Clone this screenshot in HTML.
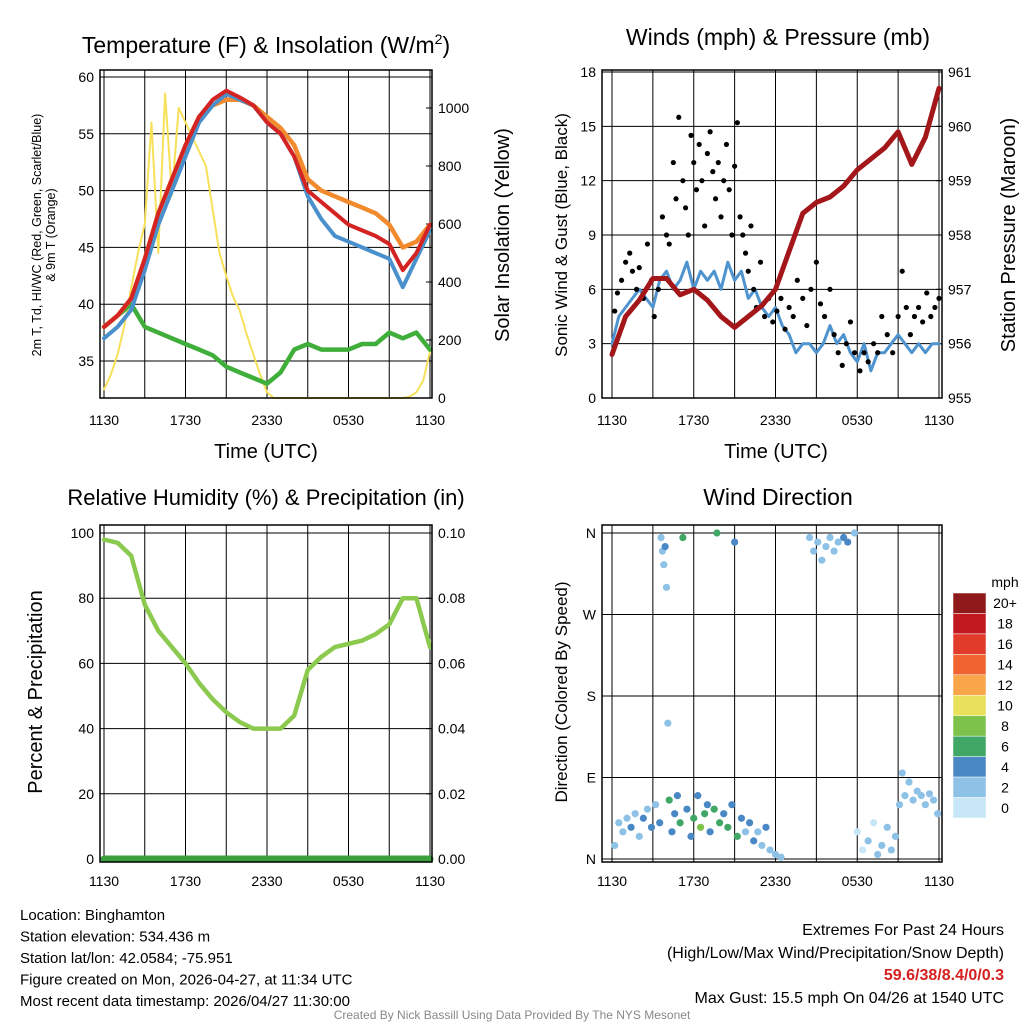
<!DOCTYPE html>
<html><head><meta charset="utf-8"><style>
body{margin:0;background:#fff;}
svg{display:block;font-family:"Liberation Sans",sans-serif;}
</style></head><body>
<svg id="c" width="1024" height="1024" viewBox="0 0 1024 1024"></svg>
<script>
// ---- data ----
const tempHours=[0,1,2,3,4,5,6,7,8,9,10,11,12,13,14,15,16,17,18,19,20,21,22,23,24];
const tempRed=[38,39,40.5,44,48,51,54,56.5,58,58.8,58.2,57.5,56,55,53,50,49,48,47,46.5,46,45.3,43,44.5,47];
const temp9m=[38,39,40.5,44,48,51,54,56.5,57.5,58,58,57.5,56.5,55.5,54,51,50,49.5,49,48.5,48,47,45,45.5,47];
const tempWC=[37,38,39.5,43,47,50,53,56,57.5,58.5,58,57.5,56,55,53,49.5,47.5,46,45.5,45,44.5,44,41.5,44,46.5];
const dewpt=[38,39,40,38,37.5,37,36.5,36,35.5,34.5,34,33.5,33,34,36,36.5,36,36,36,36.5,36.5,37.5,37,37.5,36];
const solarHalfHours=[0,0.5,1,1.5,2,2.5,3,3.5,4,4.5,5,5.5,6,6.5,7,7.5,8,8.5,9,9.5,10,10.5,11,11.5,12,12.5,13,13.5,14,14.5,15,15.5,16,16.5,17,17.5,18,18.5,19,19.5,20,20.5,21,21.5,22,22.5,23,23.5,24];
const solar=[30,80,150,250,380,500,600,950,500,1050,700,1000,950,900,850,800,650,500,420,350,300,220,150,80,20,0,0,0,0,0,0,0,0,0,0,0,0,0,0,0,0,0,0,0,0,5,20,60,160];
const windSpeed=[3,4.5,5,5.5,6,5.5,5,6.5,7,6,6.5,7.5,6,7,6.5,7,6,7.5,6.5,7,5.5,6,5,4.5,5,4,3.5,2.5,3,3,2.5,3,4,3,3.5,2.5,2,3,1.5,2.5,2.5,3,3.5,3,2.5,3,2.5,3,3];
const gustT=[0.2,0.4,0.7,1,1.3,1.5,1.8,2,2.3,2.6,2.9,3.1,3.4,3.7,4,4.2,4.5,4.7,4.9,5.2,5.4,5.6,5.8,6,6.2,6.4,6.6,6.8,7,7.2,7.4,7.6,7.8,8,8.2,8.4,8.6,8.8,9,9.2,9.4,9.6,9.8,10,10.2,10.4,10.6,10.9,11.2,11.5,11.8,12.1,12.4,12.7,13,13.3,13.6,14,14.3,14.6,15,15.3,15.6,16,16.3,16.6,16.9,17.2,17.5,17.8,18.2,18.5,18.8,19.2,19.5,19.8,20.2,20.6,21,21.3,21.6,21.9,22.2,22.5,22.8,23.1,23.4,23.7,24];
const gustV=[4.8,5.8,6.5,7.5,8,7,6,7.2,5.5,8.5,6.5,4.5,6,10,9,8.5,13,11,15.5,12,10.5,9,14.5,13,11.5,14,12,9.5,13.5,14.7,12.5,11,13,10,12,14,11.5,9,12.8,15.2,10,9,8,7,9.5,6,5,7.5,4.5,5.5,4.2,4.8,5.5,3.8,5,4.5,6.5,5.5,4,6,7.5,5.2,4.5,6,3.5,2.5,1.8,3,4.2,2.5,1.5,2.5,2,3,2.5,4.5,3.5,2.5,4.5,7,5,3.5,4.5,5,4.2,5.8,4.5,5,5.5];
const pressure=[955.8,956.5,956.8,957.2,957.2,956.9,957.0,956.8,956.5,956.3,956.5,956.7,957.0,957.7,958.4,958.6,958.7,958.9,959.2,959.4,959.6,959.9,959.3,959.8,960.7];
const rh=[98,97,93,78,70,65,60,54,49,45,42,40,40,40,44,58,62,65,66,67,69,72,80,80,65];
const precip=[0,0,0,0,0,0,0,0,0,0,0,0,0,0,0,0,0,0,0,0,0,0,0,0,0];
const dirT=[0.2,0.5,0.8,1.1,1.4,1.7,2,2.3,2.6,2.9,3.2,3.5,3.6,3.7,3.8,3.9,4,4.1,4.2,4.4,4.6,4.8,5,5.2,5.5,5.8,6,6.3,6.5,6.8,7,7.2,7.5,7.7,7.9,8.2,8.5,8.8,9,9.2,9.5,9.8,10.1,10.4,10.7,11,11.3,11.6,12,12.4,14.5,14.8,15.1,15.4,15.7,16,16.3,16.6,17,17.3,17.8,18,18.4,18.8,19.2,19.5,19.8,20.2,20.5,20.8,21.1,21.3,21.5,21.8,22.1,22.4,22.7,23,23.3,23.6,23.9];
const dirDeg=[15,40,30,45,35,50,25,45,55,35,60,40,355,340,325,345,300,150,65,30,50,70,40,355,55,25,45,70,35,50,60,30,55,360,40,50,35,60,350,25,45,30,40,20,30,15,35,10,5,2,355,340,350,330,345,355,340,350,355,350,360,30,10,20,40,5,15,35,10,25,60,95,70,85,65,75,70,60,72,65,50];
const dirSpd=[2,2,3,2,4,3,2,4,2,4,3,4,2,3,2,4,2,2,6,4,5,4,6,6,4,5,6,4,8,6,5,4,7,6,6,4,7,4,4,6,4,2,4,4,3,2,4,3,2,2,2,2,2,2,2,2,2,2,4,4,2,0,0,2,0,2,2,2,2,2,2,3,2,2,2,2,2,2,2,2,2];
const cbLabels=["20+","18","16","14","12","10","8","6","4","2","0"];
const cbColors=["#8e1a1c","#c1191f","#e03b2b","#f16331","#f9a64b","#e9e05c","#7dc24b","#40a766","#4a88c5","#8dc1e6","#c7e7f9"];
const xLabels=["1130","1730","2330","0530","1130"];

// ---- helpers ----
const S=document.getElementById('c');const NS="http://www.w3.org/2000/svg";
function el(tag,a,txt){const e=document.createElementNS(NS,tag);for(const k in a)e.setAttribute(k,a[k]);if(txt!==undefined)e.textContent=txt;S.appendChild(e);return e;}
function lin(d0,d1,r0,r1){return v=>r0+(v-d0)*(r1-r0)/(d1-d0);}
function text(x,y,s,size,anchor,extra){const t=el('text',Object.assign({x:x,y:y,'font-size':size,'text-anchor':anchor||'middle',fill:'#000'},extra||{}),s);return t;}
function poly(xs,ys,fx,fy,color,w,name){const p=xs.map((t,i)=>fx(t).toFixed(1)+','+fy(ys[i]).toFixed(1)).join(' ');
 const e=el('polyline',{points:p,fill:'none',stroke:color,'stroke-width':w,'stroke-linejoin':'round','stroke-linecap':'round'});
 
 return e;}
function panel(x0,x1,y0,y1,name){const r=el('rect',{x:x0,y:y0,width:x1-x0,height:y1-y0,fill:'none',stroke:'#000','stroke-width':1.5});
 
 }
function vgrid(fx,y0,y1){for(let h=0;h<=24;h+=3){const g=el('line',{x1:fx(h),x2:fx(h),y1:y0,y2:y1,stroke:'#000','stroke-width':1});
 
 }}
function xtick(fx,y){xLabels.forEach((l,i)=>{const t=text(fx(i*6),y,l,14);
 
 });}
function hgrid(vals,fy,x0,x1,fmt,xl,anchor){vals.forEach(v=>{const g=el('line',{x1:x0,x2:x1,y1:fy(v),y2:fy(v),stroke:'#000','stroke-width':1});
 
 
 const t=text(xl,fy(v)+5,fmt(v),14,anchor);
 
 });}
function rticks(vals,fy,x,xl,fmt){vals.forEach(v=>{el('line',{x1:x-6,x2:x,y1:fy(v),y2:fy(v),stroke:'#000'});
 const t=text(xl,fy(v)+5,fmt(v),14,'start');
 
 });}
function rot(x,y,s,size,name){const t=el('text',{x:0,y:0,'font-size':size,'text-anchor':'middle',transform:`translate(${x},${y}) rotate(-90)`},s);
 
 return t;}

// ---- Panel 1: Temperature ----
{const fx=lin(0,24,104,430),fy=lin(35,60,361,77),fs=lin(0,1000,398,108);
 vgrid(fx,70,398);hgrid([35,40,45,50,55,60],fy,100,432,v=>v,94,'end');
 rticks([0,200,400,600,800,1000],fs,432,438,v=>v);
 poly(solarHalfHours,solar,fx,fs,'#f7e15a',2,'solar-insolation-line');
 poly(tempHours,dewpt,fx,fy,'#3fae3a',4.5,'dewpoint-line');
 poly(tempHours,temp9m,fx,fy,'#f28a2e',4.5,'temp-9m-line');
 poly(tempHours,tempWC,fx,fy,'#4a90cc',4,'heat-index-windchill-line');
 poly(tempHours,tempRed,fx,fy,'#d42323',4,'temp-2m-line');
 panel(100,432,70,398,'temperature-plot-area');xtick(fx,425);
 const t=el('text',{x:266,y:53,'font-size':23,'text-anchor':'middle'});t.innerHTML='Temperature (F) &amp; Insolation (W/m<tspan dy="-9" font-size="14">2</tspan><tspan dy="9">)</tspan>';
 
 const tt=text(266,458,'Time (UTC)',20);
 rot(41,235,'2m T, Td, HI/WC (Red, Green, Scarlet/Blue)',12.5,'temperature-y-title');
 rot(55,235,'& 9m T (Orange)',12.5,'temperature-y-title-line2');
 rot(509,235,'Solar Insolation (Yellow)',20,'solar-y-title');}

// ---- Panel 2: Winds ----
{const fx=lin(0,24,612,939),fy=lin(0,18,398,72),fp=lin(955,961,398,72);
 vgrid(fx,70,398);hgrid([0,3,6,9,12,15,18],fy,602,942,v=>v,596,'end');
 rticks([955,956,957,958,959,960,961],fp,942,948,v=>v);
 const xs=Array.from({length:windSpeed.length},(_,i)=>i*0.5);
 poly(xs,windSpeed,fx,fy,'#4f93cf',3,'sonic-wind-line');
 gustT.forEach((t,i)=>{const c=el('circle',{cx:fx(t),cy:fy(gustV[i]),r:2.6,fill:'#000'});
  
  });
 poly(tempHours,pressure,fx,fp,'#a3171b',5,'pressure-line');
 panel(602,942,70,398,'winds-plot-area');xtick(fx,425);
 const t=text(778,45,'Winds (mph) & Pressure (mb)',23);
 const tt=text(776,458,'Time (UTC)',20);
 rot(567,235,'Sonic Wind & Gust (Blue, Black)',17,'wind-y-title');
 rot(1015,235,'Station Pressure (Maroon)',20,'pressure-y-title');}

// ---- Panel 3: RH ----
{const fx=lin(0,24,104,430),fy=lin(0,100,859,533),fr=lin(0,0.1,859,533);
 vgrid(fx,525,862);hgrid([0,20,40,60,80,100],fy,100,432,v=>v,94,'end');
 rticks([0,0.02,0.04,0.06,0.08,0.1],fr,432,438,v=>v.toFixed(2));
 poly(tempHours,rh,fx,fy,'#8cc94f',4.5,'relative-humidity-line');
 poly(tempHours,precip,fx,fr,'#3b9f3b',7,'precipitation-line');
 panel(100,432,525,862,'humidity-plot-area');xtick(fx,886);
 const t=text(266,505,'Relative Humidity (%) & Precipitation (in)',22);
 rot(42,692,'Percent & Precipitation',20,'humidity-y-title');}

// ---- Panel 4: Wind Direction ----
{const fx=lin(0,24,612,939),fy=lin(0,360,859,533);
 vgrid(fx,525,862);hgrid([0,90,180,270,360],fy,602,942,v=>['N','E','S','W','N'][v/90],596,'end');
 dirT.forEach((t,i)=>{const k=Math.min(10,Math.floor(dirSpd[i]/2));const c=el('circle',{cx:fx(t),cy:fy(dirDeg[i]),r:3.6,fill:cbColors[10-k]});
  
  });
 panel(602,942,525,862,'wind-direction-plot-area');xtick(fx,886);
 const t=text(778,505,'Wind Direction',23);
 rot(567,692,'Direction (Colored By Speed)',17,'direction-y-title');
 const h=(818-593)/cbColors.length;
 cbColors.forEach((c,i)=>{const r=el('rect',{x:953,y:593+i*h,width:33,height:h,fill:c,stroke:'#fff','stroke-width':0.5});
  
  
  const l=text(1005,593+i*h+h/2+5,cbLabels[i],14);
  
  });
 const u=text(1005,587,'mph',14);}

// ---- footer ----
["Location: Binghamton","Station elevation: 534.436 m","Station lat/lon: 42.0584; -75.951","Figure created on Mon, 2026-04-27, at 11:34 UTC","Most recent data timestamp: 2026/04/27 11:30:00"].forEach((s,i)=>{
 const t=text(20,920+i*21.5,s,15,'start');});
[["Extremes For Past 24 Hours",935,{}],["(High/Low/Max Wind/Precipitation/Snow Depth)",958,{}],["59.6/38/8.4/0/0.3",980,{fill:'#d42020','font-weight':'bold'}],["Max Gust: 15.5 mph On 04/26 at 1540 UTC",1003,{}]].forEach(a=>{
 const t=text(1004,a[1],a[0],16,'end',a[2]);});
{const t=text(512,1019,'Created By Nick Bassill Using Data Provided By The NYS Mesonet',12,'middle',{fill:'#888'});}
</script>
</body></html>
